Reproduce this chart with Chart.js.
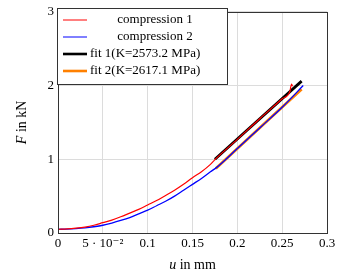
<!DOCTYPE html>
<html lang="en">

<head>
    <meta charset="UTF-8">
    <title>compression fit</title>
    <script src="https://cdn.jsdelivr.net/npm/chart.js"></script>
    <style>
        html, body { margin: 0; padding: 0; background: #fff; }
        #box { width: 341px; height: 273px; }
    </style>
</head>

<body>
    <div id="box">
        <canvas id="grafico"></canvas>
    </div>

<script>
    // dados (u em mm, F em kN)
    const comp1U = [0, 0.01, 0.02, 0.03, 0.04, 0.05, 0.06, 0.07, 0.08, 0.09, 0.10, 0.11, 0.12, 0.13, 0.14, 0.15, 0.16, 0.17, 0.175, 0.2, 0.225, 0.25, 0.2585, 0.2605, 0.2615];
    const comp1F = [0.05, 0.055, 0.065, 0.08, 0.105, 0.14, 0.175, 0.22, 0.27, 0.32, 0.38, 0.44, 0.51, 0.58, 0.66, 0.75, 0.83, 0.93, 0.995, 1.27, 1.55, 1.82, 1.915, 2.02, 1.99];
    const comp2U = [0, 0.01, 0.02, 0.03, 0.04, 0.05, 0.06, 0.07, 0.08, 0.09, 0.10, 0.11, 0.12, 0.13, 0.14, 0.15, 0.16, 0.17, 0.177, 0.2, 0.225, 0.25, 0.2735];
    const comp2F = [0.05, 0.053, 0.06, 0.07, 0.085, 0.105, 0.135, 0.17, 0.21, 0.26, 0.31, 0.37, 0.43, 0.50, 0.58, 0.66, 0.74, 0.83, 0.89, 1.145, 1.425, 1.705, 2.0];
    const fit1U = [0.175, 0.2717];
    const fit1F = [1.0, 2.06];
    const fit2U = [0.176, 0.2717];
    const fit2F = [0.876, 1.95];

    const xTicks = [0, 0.05, 0.1, 0.15, 0.2, 0.25, 0.3];
    const xTickLabels = ['0', '5 · 10⁻²', '0.1', '0.15', '0.2', '0.25', '0.3'];
    const yTicks = [0, 1, 2, 3];

    const legendas = ['compression 1', 'compression 2', 'fit 1(K=2573.2 MPa)', 'fit 2(K=2617.1 MPa)'];
    const cores = ['#ff0000', '#0000ff', '#000000', '#ff8000'];

    const fonte = '"Liberation Serif", "DejaVu Serif", serif';

    function pontos(us, fs) {
        return us.map((u, i) => ({ x: u, y: fs[i] }));
    }

    // moldura completa do grafico
    const moldura = {
        id: 'moldura',
        afterDatasetsDraw(chart) {
            const ctx = chart.ctx;
            const a = chart.chartArea;
            ctx.save();
            ctx.strokeStyle = '#333';
            ctx.lineWidth = 1;
            ctx.strokeRect(Math.round(a.left) + 0.5, Math.round(a.top) + 0.5,
                Math.round(a.right - a.left), Math.round(a.bottom - a.top));
            ctx.restore();
        }
    };

    // titulos dos eixos com u e F em italico
    const titulosEixos = {
        id: 'titulosEixos',
        afterDraw(chart) {
            const ctx = chart.ctx;
            const area = chart.chartArea;
            ctx.save();
            ctx.fillStyle = '#000';
            ctx.textBaseline = 'middle';

            // eixo x
            ctx.font = 'italic 14px ' + fonte;
            let w1 = ctx.measureText('u').width;
            ctx.font = '14px ' + fonte;
            let w2 = ctx.measureText(' in mm').width;
            let x0 = (area.left + area.right) / 2 - (w1 + w2) / 2;
            ctx.textAlign = 'left';
            ctx.font = 'italic 14px ' + fonte;
            ctx.fillText('u', x0, 265);
            ctx.font = '14px ' + fonte;
            ctx.fillText(' in mm', x0 + w1, 265);

            // eixo y
            ctx.translate(22, (area.top + area.bottom) / 2);
            ctx.rotate(-Math.PI / 2);
            ctx.font = 'italic 14px ' + fonte;
            w1 = ctx.measureText('F').width;
            ctx.font = '14px ' + fonte;
            w2 = ctx.measureText(' in kN').width;
            x0 = -(w1 + w2) / 2;
            ctx.font = 'italic 14px ' + fonte;
            ctx.fillText('F', x0, 0);
            ctx.font = '14px ' + fonte;
            ctx.fillText(' in kN', x0 + w1, 0);
            ctx.restore();
        }
    };

    // legenda no estilo pgfplots
    const legendaCaixa = {
        id: 'legendaCaixa',
        afterDraw(chart) {
            const ctx = chart.ctx;
            const bx = 57.5, by = 8.5, bw = 170, bh = 76;
            ctx.save();
            ctx.fillStyle = '#fff';
            ctx.fillRect(bx, by, bw, bh);
            ctx.strokeStyle = '#333';
            ctx.lineWidth = 1;
            ctx.strokeRect(bx, by, bw, bh);

            const linhasY = [20, 37, 54, 71];
            ctx.font = '13px ' + fonte;
            ctx.textBaseline = 'middle';
            ctx.fillStyle = '#000';
            legendas.forEach((txt, i) => {
                ctx.strokeStyle = cores[i];
                ctx.lineWidth = i < 2 ? 1 : 2.6;
                ctx.beginPath();
                ctx.moveTo(63, linhasY[i]);
                ctx.lineTo(87, linhasY[i]);
                ctx.stroke();
                if (i < 2) {
                    ctx.textAlign = 'center';
                    ctx.fillText(txt, 155, linhasY[i]);
                } else {
                    ctx.textAlign = 'left';
                    ctx.fillText(txt, 90, linhasY[i]);
                }
            });
            ctx.restore();
        }
    };

    const dados = {
        datasets: [
            { label: legendas[0], data: pontos(comp1U, comp1F), borderColor: cores[0], borderWidth: 1.2 },
            { label: legendas[1], data: pontos(comp2U, comp2F), borderColor: cores[1], borderWidth: 1.3 },
            { label: legendas[2], data: pontos(fit1U, fit1F), borderColor: cores[2], borderWidth: 2.8 },
            { label: legendas[3], data: pontos(fit2U, fit2F), borderColor: cores[3], borderWidth: 2.8 }
        ]
    };
    dados.datasets.forEach(d => {
        d.showLine = true;
        d.pointRadius = 0;
        d.cubicInterpolationMode = 'monotone';
        d.fill = false;
        d.borderCapStyle = 'butt';
    });

    const config = {
        type: 'scatter',
        data: dados,
        options: {
            responsive: false,
            animation: false,
            devicePixelRatio: 1,
            layout: { padding: { left: 0, right: 14, top: 9, bottom: 0 } },
            plugins: {
                legend: { display: false },
                tooltip: { enabled: false }
            },
            scales: {
                x: {
                    type: 'linear',
                    min: 0,
                    max: 0.3,
                    afterBuildTicks: (axis) => { axis.ticks = xTicks.map(v => ({ value: v })); },
                    afterFit: (axis) => { axis.height = 40; },
                    ticks: {
                        color: '#000',
                        font: { family: fonte, size: 13 },
                        padding: 3,
                        maxRotation: 0,
                        autoSkip: false,
                        callback: (v) => xTickLabels[xTicks.indexOf(v)]
                    },
                    grid: { color: '#dcdcdc', drawTicks: false },
                    border: { color: '#333', width: 1 }
                },
                y: {
                    type: 'linear',
                    min: 0,
                    max: 3,
                    afterBuildTicks: (axis) => { axis.ticks = yTicks.map(v => ({ value: v })); },
                    afterFit: (axis) => { axis.width = 58; },
                    ticks: {
                        color: '#000',
                        font: { family: fonte, size: 13 },
                        padding: 4,
                        callback: (v) => String(v)
                    },
                    grid: { color: '#dcdcdc', drawTicks: false },
                    border: { color: '#333', width: 1 }
                }
            }
        },
        plugins: [moldura, titulosEixos, legendaCaixa]
    };

    const canvas = document.getElementById('grafico');
    canvas.width = 341;
    canvas.height = 273;
    new Chart(canvas, config);
</script>
</body>

</html>
